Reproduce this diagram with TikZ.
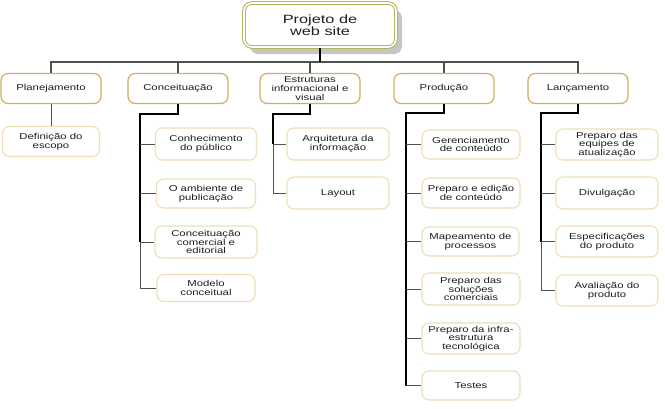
\documentclass[tikz,border=0pt]{standalone}
\usepackage{fontspec}
\setmainfont[FakeStretch=1.32]{Liberation Sans}
\newfontfamily\rootfont[FakeStretch=1.36]{Liberation Sans}
\usetikzlibrary{shadows}
\definecolor{gold}{HTML}{D2AE5E}
\definecolor{pale}{HTML}{EEDFB4}
\definecolor{olivebd}{HTML}{B4B458}
\definecolor{txt}{HTML}{1E1E1E}
\definecolor{ln}{HTML}{505050}
\begin{document}
\begin{tikzpicture}[x=1pt,y=-1pt,
  lvone/.style={draw=gold, line width=1.2pt, rounded corners=7pt, fill=white,
    minimum width=100pt, minimum height=30pt, align=center, text=txt,
    font=\fontsize{8.6}{8.6}\selectfont, inner sep=1pt},
  lvtwo/.style={lvone, draw=pale, line width=1.1pt},
  rootbox/.style={draw=olivebd, line width=1pt, double=white, double distance=1.6pt,
    rounded corners=8pt, fill=white, minimum width=152pt, minimum height=44pt,
    align=center, text=txt, font=\rootfont\fontsize{12}{12.3}\selectfont,
    drop shadow={shadow xshift=6pt, shadow yshift=-7pt, fill=black!50, opacity=0.45}},
  busline/.style={draw=ln, line width=1.1pt},
  trunk/.style={draw=black, line width=1.6pt},
  stub/.style={draw=ln, line width=0.9pt}
]
\useasboundingbox (0,0) rectangle (665,408);

\node[rootbox] (root) at (320,25) {Projeto de\\web site};

\node[lvone] (plan) at (51,88.5) {Planejamento};
\node[lvone] (conc) at (178,88.5) {Conceituação};
\node[lvone] (estr) at (310,88.5) {Estruturas\\informacional e\\visual};
\node[lvone] (prod) at (444,88.5) {Produção};
\node[lvone] (lanc) at (578,88.5) {Lançamento};

\node[lvtwo, minimum width=97pt] (d1) at (51,141.5) {Definição do\\escopo};

\node[lvtwo, minimum width=101pt, minimum height=32pt] (c1) at (206,144) {Conhecimento\\do público};
\node[lvtwo, minimum width=99pt, minimum height=29pt] (c2) at (206,193.5) {O ambiente de\\publicação};
\node[lvtwo, minimum width=102pt, minimum height=32pt] (c3) at (206,242) {Conceituação\\comercial e\\editorial};
\node[lvtwo, minimum width=98pt, minimum height=27pt] (c4) at (206,288) {Modelo\\conceitual};

\node[lvtwo, minimum width=102pt, minimum height=32pt] (e1) at (338,144) {Arquitetura da\\informação};
\node[lvtwo, minimum width=102pt, minimum height=32pt] (e2) at (338,193) {Layout};

\node[lvtwo, minimum width=98pt, minimum height=29pt] (p1) at (471,144.5) {Gerenciamento\\de conteúdo};
\node[lvtwo, minimum width=98pt, minimum height=30pt] (p2) at (471,193) {Preparo e edição\\de conteúdo};
\node[lvtwo, minimum width=97pt, minimum height=29pt] (p3) at (470.5,241.5) {Mapeamento de\\processos};
\node[lvtwo, minimum width=98pt, minimum height=32pt] (p4) at (471,289) {Preparo das\\soluções\\comerciais};
\node[lvtwo, minimum width=98pt, minimum height=31pt] (p5) at (471,338.5) {Preparo da infra-\\estrutura\\tecnológica};
\node[lvtwo, minimum width=98pt, minimum height=29pt] (p6) at (471,385.5) {Testes};

\node[lvtwo, minimum width=102pt, minimum height=31pt] (l1) at (607,144.5) {Preparo das\\equipes de\\atualização};
\node[lvtwo, minimum width=102pt, minimum height=32pt] (l2) at (607,193) {Divulgação};
\node[lvtwo, minimum width=102pt, minimum height=31pt] (l3) at (607,241.5) {Especificações\\do produto};
\node[lvtwo, minimum width=102pt, minimum height=31pt] (l4) at (607,290.5) {Avaliação do\\produto};

% bus
\coordinate (bus) at (319,62);
\draw[busline] (plan.north) -- (plan.north |- bus) -- (lanc.north |- bus) -- (lanc.north);
\draw[busline] (conc.north) -- (conc.north |- bus);
\draw[busline] (estr.north) -- (estr.north |- bus);
\draw[busline] (prod.north) -- (prod.north |- bus);
\draw[trunk] (root.south) -- (root.south |- bus);

% Planejamento
\draw[stub] (plan.south) -- (d1.north);

% Conceituacao
\coordinate (cx) at (140,114);
\draw[trunk] (conc.south) |- (cx) -- (cx |- c3.west);
\draw[stub] (cx |- c3.west) -- (cx |- c4.west);
\foreach \n in {c1,c2,c3,c4} \draw[stub] (cx |- \n.west) -- (\n.west);

% Estruturas
\coordinate (ex) at (273,114);
\draw[trunk] (estr.south) |- (ex) -- (ex |- e1.west);
\draw[stub] (ex |- e1.west) -- (ex |- e2.west);
\foreach \n in {e1,e2} \draw[stub] (ex |- \n.west) -- (\n.west);

% Producao
\coordinate (px) at (406,113);
\draw[trunk] (prod.south) |- (px) -- (px |- p6.west);
\foreach \n in {p1,p2,p3,p4,p5,p6} \draw[stub] (px |- \n.west) -- (\n.west);

% Lancamento
\coordinate (lx) at (541,113);
\draw[trunk] (lanc.south) |- (lx) -- (lx |- l3.west);
\draw[stub] (lx |- l3.west) -- (lx |- l4.west);
\foreach \n in {l1,l2,l3,l4} \draw[stub] (lx |- \n.west) -- (\n.west);
\end{tikzpicture}
\end{document}
